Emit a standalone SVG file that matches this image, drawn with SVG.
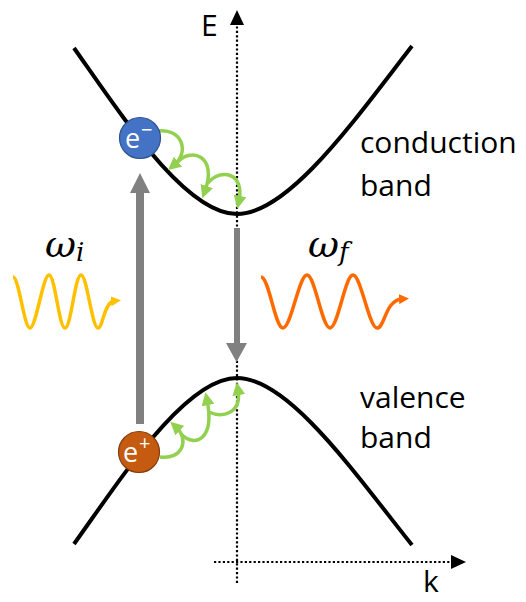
<svg xmlns="http://www.w3.org/2000/svg" width="526" height="602" viewBox="0 0 526 602">
<style>
.band{fill:none;stroke:#000;stroke-width:4;stroke-linecap:butt}
.axis{fill:none;stroke:#000;stroke-width:2.2;stroke-dasharray:2.2,2.2}
.green{fill:none;stroke:#92D050;stroke-width:3.5;marker-end:url(#ga)}
.lbl{font-family:"Open Sans","Liberation Sans",sans-serif;font-size:30px;fill:#000}
.math{font-family:"DejaVu Serif","Liberation Serif",serif;font-style:italic;fill:#000}
.ptxt{font-family:"Open Sans","Liberation Sans",sans-serif;font-size:27px;fill:#fff}
.garrow{fill:#808080}
</style>
<defs>
<marker id="ga" viewBox="0 0 10 10" refX="4" refY="5" markerWidth="13" markerHeight="13" markerUnits="userSpaceOnUse" orient="auto"><path d="M0,0 L10,5 L0,10 z" fill="#92D050"/></marker>
<marker id="ya" viewBox="0 0 10 10" refX="3" refY="5" markerWidth="10" markerHeight="10" markerUnits="userSpaceOnUse" orient="auto"><path d="M0,0 L10,5 L0,10 z" fill="#FFC000"/></marker>
<marker id="oa" viewBox="0 0 10 10" refX="3" refY="5" markerWidth="10" markerHeight="10" markerUnits="userSpaceOnUse" orient="auto"><path d="M0,0 L10,5 L0,10 z" fill="#FF6A00"/></marker>
</defs>

<g id="axes">
<path class="axis" d="M237,583 V24"/>
<path d="M237,10 L230,25 L244,25 Z" fill="#000"/>
<path class="axis" d="M214,562 H452"/>
<path d="M466,562 L451,555 L451,569 Z" fill="#000"/>
<text class="lbl" x="201" y="36">E</text>
<text class="lbl" x="423" y="592">k</text>
</g>

<g id="conduction-band">
<path class="band" d="M74,48 C120,113 185,214 237,214 C289,214 356,118 412,46"/>
<text class="lbl" x="360" y="153">conduction</text>
<text class="lbl" x="360" y="196">band</text>
</g>

<g id="valence-band">
<path class="band" d="M74,544 C120,480 185,378 237,378 C289,378 356,475 412,545"/>
<text class="lbl" x="360" y="408">valence</text>
<text class="lbl" x="360" y="448">band</text>
</g>

<g id="connectors">
<path class="green" d="M158,131 C182,128 190,152 174,165"/>
<path class="green" d="M176,164 C190,146 218,155 205,191"/>
<path class="green" d="M208,183 C220,168 245,172 239,201"/>
<path class="green" d="M160,457 C182,460 190,440 176,427"/>
<path class="green" d="M181,434 C195,448 215,440 207,400"/>
<path class="green" d="M209,412 C222,418 242,414 238,390"/>
<path class="garrow" d="M136,424 V193 H130 L140,173 L150,193 H144 V424 Z"/>
<path class="garrow" d="M234,228 V343 H226 L236.5,362 L247,343 H240 V228 Z"/>
</g>

<g id="electron">
<circle cx="140" cy="138" r="20.5" fill="#4472C4" stroke="#2F528F" stroke-width="1.2"/>
<text class="ptxt" x="125" y="148">e</text>
<text class="ptxt" x="141" y="137" style="font-size:20px">−</text>
</g>

<g id="hole">
<circle cx="139" cy="452" r="20.5" fill="#C55A11" stroke="#843C0C" stroke-width="1.2"/>
<text class="ptxt" x="123" y="462">e</text>
<text class="ptxt" x="139" y="450" style="font-size:20px">+</text>
</g>

<g id="photon-in">
<text class="math" x="45" y="257" style="font-size:38px">ω<tspan dy="4" style="font-size:26px">i</tspan></text>
<path d="M13,277 C19,277 24,328 30,328 C36,328 43,275 49,275 C55,275 59,328 65,328 C71,328 75,275 81,275 C87,275 92,328 98,328 C103,328 104,302 114,301" fill="none" stroke="#FFC000" stroke-width="3.5" marker-end="url(#ya)"/>
</g>

<g id="photon-out">
<text class="math" x="308" y="257" style="font-size:38px">ω<tspan dy="4" style="font-size:26px">f</tspan></text>
<path d="M261,277 C269,277 275,328 283,328 C291,328 299,275 307,275 C315,275 322,328 330,328 C338,328 345,275 353,275 C361,275 369,328 377,328 C385,328 385,300 402,299" fill="none" stroke="#FF6A00" stroke-width="3.5" marker-end="url(#oa)"/>
</g>
</svg>
